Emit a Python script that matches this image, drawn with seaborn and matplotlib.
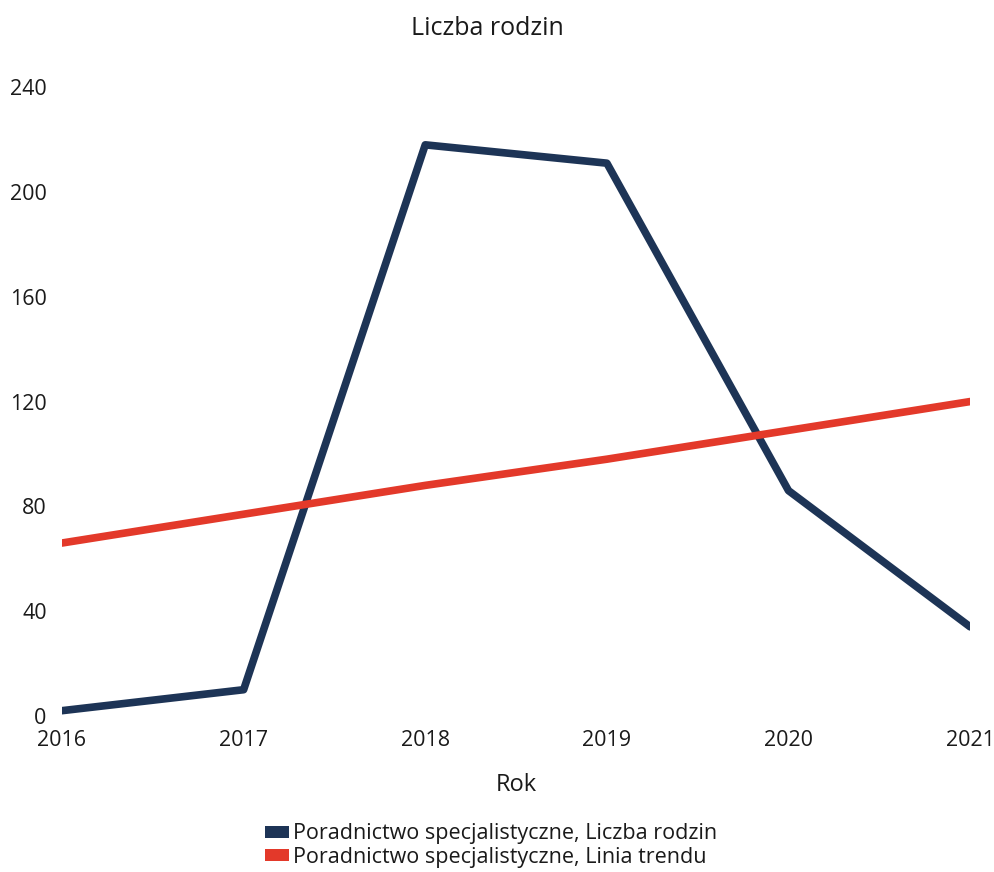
import pandas as pd
import matplotlib.pyplot as plt
import seaborn as sns
from matplotlib.patches import Patch

# Values
years = [2016, 2017, 2018, 2019, 2020, 2021]
families = [2, 10, 218, 211, 86, 34]
trend = [66, 77, 88, 98, 109, 120]
labels = ['Poradnictwo specjalistyczne, Liczba rodzin',
          'Poradnictwo specjalistyczne, Linia trendu']
colors = ['#1d3456', '#e3392a']

df = pd.DataFrame({
    'Rok': years * 2,
    'Wartość': families + trend,
    'Seria': [labels[0]] * len(years) + [labels[1]] * len(years),
})

sns.set_style('white')
plt.rcParams['font.family'] = ['Open Sans', 'DejaVu Sans']

fig = plt.figure(figsize=(9.95, 8.72), dpi=100)
ax = fig.add_axes([0.0623, 0.179, 0.9127, 0.721])

sns.lineplot(data=df, x='Rok', y='Wartość', hue='Seria', palette=colors,
             linewidth=5.5, legend=False, ax=ax)

ax.set_xlim(2016, 2021)
ax.set_ylim(0, 240)
ax.set_yticks(range(0, 241, 40))
ax.set_xticks(years)
ax.tick_params(axis='both', length=0, labelsize=15.5, colors='#1a1a1a')
ax.tick_params(axis='x', pad=10)
ax.tick_params(axis='y', pad=11)
sns.despine(ax=ax, left=True, bottom=True)

ax.set_ylabel('')
ax.set_xlabel('Rok', fontsize=17, color='#1a1a1a', labelpad=16)
fig.text(0.49, 0.967, 'Liczba rodzin', ha='center', va='center',
         fontsize=18, color='#1a1a1a')

handles = [Patch(facecolor=c, edgecolor='none') for c in colors]
fig.legend(handles, labels, loc='center', bbox_to_anchor=(0.494, 0.0304),
           ncol=1, frameon=False, fontsize=15.5, handlelength=1.1,
           handleheight=0.5, handletextpad=0.2, labelspacing=0.1,
           borderpad=0, labelcolor='#1a1a1a')

fig.savefig('out.png', dpi=100)
